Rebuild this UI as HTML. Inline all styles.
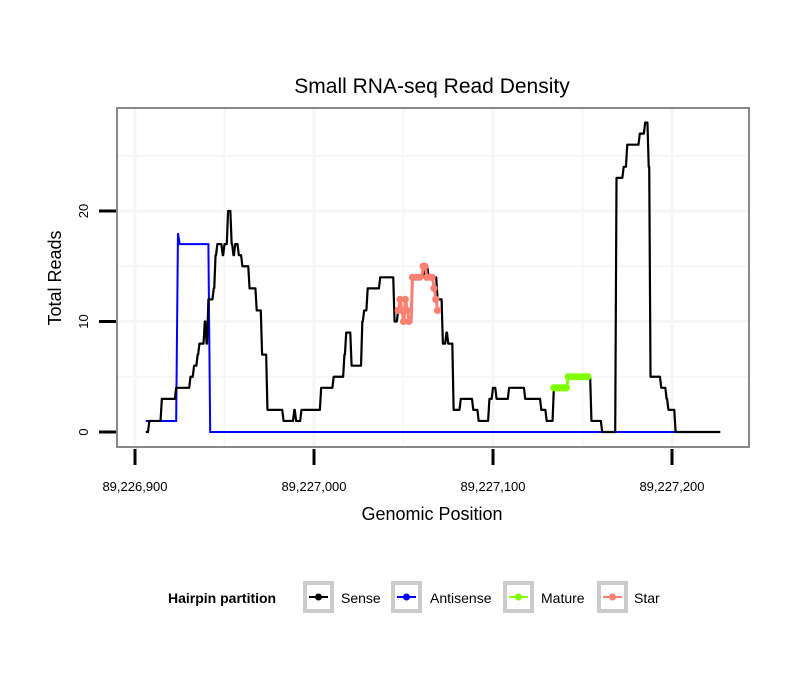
<!DOCTYPE html>
<html><head><meta charset="utf-8"><style>
body{margin:0;background:#fff;}
svg text{font-family:"Liberation Sans",sans-serif;}
</style></head><body>
<svg id="chart" width="810" height="690" xmlns="http://www.w3.org/2000/svg">
<text x="432" y="93" font-size="21" text-anchor="middle">Small RNA-seq Read Density</text>
<rect x="117" y="108" width="632" height="339" fill="#fff" stroke="#888" stroke-width="2"/>
<g id="grid"></g>
<g id="series"></g>
<g id="axes"></g>
<text x="432" y="520" font-size="18" text-anchor="middle">Genomic Position</text>
<text transform="translate(61,278) rotate(-90)" font-size="18" text-anchor="middle">Total Reads</text>
<g>
<text x="168" y="603" font-size="14" font-weight="bold">Hairpin partition</text>
<g><rect x="305" y="583" width="27" height="28" fill="#fff" stroke="#ccc" stroke-width="4"/><line x1="309" y1="597" x2="328" y2="597" stroke="#000" stroke-width="2"/><circle cx="318.5" cy="597" r="3.5" fill="#000"/><text x="341" y="603" font-size="14">Sense</text></g>
<g><rect x="393" y="583" width="27" height="28" fill="#fff" stroke="#ccc" stroke-width="4"/><line x1="397" y1="597" x2="416" y2="597" stroke="#00f" stroke-width="2"/><circle cx="406.5" cy="597" r="3.5" fill="#00f"/><text x="430" y="603" font-size="14">Antisense</text></g>
<g><rect x="505" y="583" width="27" height="28" fill="#fff" stroke="#ccc" stroke-width="4"/><line x1="509" y1="597" x2="528" y2="597" stroke="#7fff00" stroke-width="2"/><circle cx="518.5" cy="597" r="3.5" fill="#7fff00"/><text x="541" y="603" font-size="14">Mature</text></g>
<g><rect x="599" y="583" width="27" height="28" fill="#fff" stroke="#ccc" stroke-width="4"/><line x1="603" y1="597" x2="622" y2="597" stroke="#fa8072" stroke-width="2"/><circle cx="612.5" cy="597" r="3.5" fill="#fa8072"/><text x="634" y="603" font-size="14">Star</text></g>
</g>
</svg>
<script>
const BASE = 89226900;
const xTicks = [0, 100, 200, 300];
const xTickLabels = ["89,226,900", "89,227,000", "89,227,100", "89,227,200"];
const yTicks = [0, 10, 20];
const senseX = [6,8,15,23,31,33,35,36,39,40,41,44,45,46,49,50,52,54,55,56,58,60,64,68,71,74,78,83,89,90,93,104,111,117,118,121,127,128,130,137,145,147,155,162,164,169,172,174,175,178,182,189,192,198,200,202,209,218,227,230,234,242,255,261,269,273,275,282,285,287,288,294,297,298,302,327];
const senseY = [0,1,3,4,5,6,7,8,10,8,12,13,16,17,16,17,20,17,16,17,16,15,13,11,7,2,2,1,2,1,2,4,5,7,9,6,10,11,13,14,10,11,14,15,14,12,8,9,8,2,3,2,1,3,4,3,4,3,2,1,4,5,1,0,23,24,26,27,28,24,5,4,3,2,0,0];
const antiX = [6,23,24,25,41,42,302];
const antiY = [1,1,18,17,17,0,0];
const matureX = [234,235,236,237,238,239,240,241,242,244,246,248,250,252,253];
const matureY = [4,4,4,4,4,4,4,4,5,5,5,5,5,5,5];
const starX = [147,148,149,150,151,152,153,155,157,159,161,162,163,165,166,167,168,169];
const starY = [11,12,11,10,12,11,10,14,14,14,15,15,14,14,14,13,12,11];

const NS = "http://www.w3.org/2000/svg";
const xs = p => 135 + p * 1.79;
const ys = v => 432 - v * 11.05;
function mk(tag, attrs, parent){const e=document.createElementNS(NS,tag);for(const k in attrs)e.setAttribute(k,attrs[k]);parent.appendChild(e);return e;}
const grid=document.getElementById('grid'), ser=document.getElementById('series'), axes=document.getElementById('axes');
for(let v=5; v<=25; v+=5){
  const g=mk('line',{x1:118,x2:748,y1:ys(v),y2:ys(v),stroke:'#f6f6f6','stroke-width':(v%10===0)?3:2},grid);
  
  
}
for(let p=-50; p<=350; p+=50){
  const x=xs(p); if(x<118||x>748) continue;
  const g=mk('line',{x1:x,x2:x,y1:109,y2:446,stroke:'#f6f6f6','stroke-width':(p%100===0)?3:2},grid);
  
  
}
function stepPts(X,Y){let s=[];for(let i=0;i<X.length;i++){if(i>0)s.push((xs(X[i])-1.3)+','+ys(Y[i-1]));s.push(xs(X[i])+','+ys(Y[i]));}return s.join(' ');}
function linePts(X,Y){return X.map((x,i)=>xs(x)+','+ys(Y[i])).join(' ');}
const a=mk('polyline',{points:linePts(antiX,antiY),fill:'none',stroke:'#00f','stroke-width':2},ser);


const s=mk('polyline',{points:stepPts(senseX,senseY),fill:'none',stroke:'#000','stroke-width':2.2,'stroke-linejoin':'round'},ser);


function pts(X,Y,col,name){
  const l=mk('polyline',{points:stepPts(X,Y),fill:'none',stroke:col,'stroke-width':3},ser);
  
  
  X.forEach((x,i)=>{
    const c=mk('circle',{cx:xs(x),cy:ys(Y[i]),r:3.6,fill:col},ser);
    
    
  });
}
pts(matureX,matureY,'#7fff00','mature');
pts(starX,starY,'#fa8072','star');
xTicks.forEach((p,i)=>{
  const t=mk('line',{x1:xs(p),x2:xs(p),y1:449,y2:465,stroke:'#000','stroke-width':3},axes);
  
  
  const l=mk('text',{x:xs(p),y:491,'font-size':13,'text-anchor':'middle'},axes);
  l.textContent=xTickLabels[i];
  
  
});
yTicks.forEach(v=>{
  const t=mk('line',{x1:99,x2:116,y1:ys(v),y2:ys(v),stroke:'#000','stroke-width':3},axes);
  
  
  const l=mk('text',{transform:'translate(88,'+ys(v)+') rotate(-90)','font-size':13,'text-anchor':'middle'},axes);
  l.textContent=String(v);
  
  
});
</script>
</body></html>
